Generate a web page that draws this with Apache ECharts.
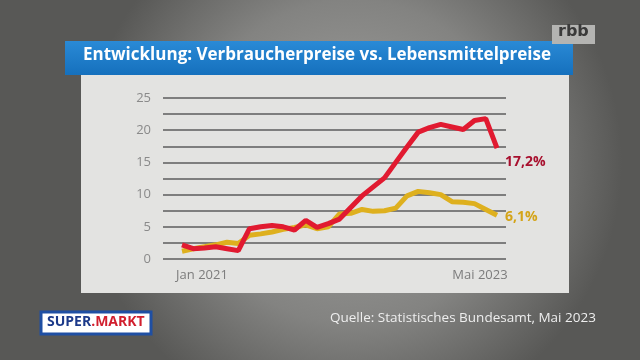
<!DOCTYPE html>
<html><head><meta charset="utf-8">
<script src="https://cdn.jsdelivr.net/npm/echarts@6/dist/echarts.min.js"></script>
<style>html,body{margin:0;padding:0;background:#6e6e6c}#c{width:640px;height:360px}</style>
</head><body><div id="c"></div>
<script>
const months = ['Jan 2021','Feb 2021','Mär 2021','Apr 2021','Mai 2021','Jun 2021','Jul 2021','Aug 2021','Sep 2021','Okt 2021','Nov 2021','Dez 2021',
  'Jan 2022','Feb 2022','Mär 2022','Apr 2022','Mai 2022','Jun 2022','Jul 2022','Aug 2022','Sep 2022','Okt 2022','Nov 2022','Dez 2022',
  'Jan 2023','Feb 2023','Mär 2023','Apr 2023','Mai 2023'];
const lebensmittel = [2.2,1.6,1.7,1.9,1.6,1.3,4.7,5.0,5.2,5.0,4.5,6.0,4.9,5.5,6.2,8.0,9.8,11.2,12.6,15.0,17.4,19.7,20.4,20.9,20.5,20.1,21.5,21.8,17.2];
const verbraucher = [1.2,1.6,1.9,2.2,2.6,2.4,3.7,3.9,4.2,4.6,4.9,5.3,4.7,5.0,7.0,7.1,7.7,7.4,7.5,7.9,9.8,10.5,10.3,10.0,8.9,8.8,8.6,7.7,6.8];
const seriesNames = ['Verbraucherpreise','Lebensmittelpreise'];
const endLabels = ['6,1%','17,2%'];
const yTicks = [0,5,10,15,20,25];
const titleText = 'Entwicklung: Verbraucherpreise vs. Lebensmittelpreise';
const sourceText = 'Quelle: Statistisches Bundesamt, Mai 2023';

const chart = echarts.init(document.getElementById('c'));
const n = months.length;
chart.setOption({
  animation: false,
  backgroundColor: {
    type: 'radial', x: 0.55, y: 0.45, r: 0.75,
    colorStops: [{offset: 0, color: '#a3a3a1'}, {offset: 0.6, color: '#838381'}, {offset: 1, color: '#585856'}]
  },
  graphic: [
    {type: 'rect', shape: {x: 81, y: 62, width: 488, height: 231}, style: {fill: '#e3e3e1'}, z: 0},
    {type: 'rect', shape: {x: 65, y: 41, width: 508, height: 34},
      style: {fill: {type: 'linear', x: 0, y: 0, x2: 0, y2: 1, colorStops: [{offset: 0, color: '#2a8ad6'}, {offset: 1, color: '#1570bd'}]}}, z: 1},
    {type: 'text', left: 83, top: 47, style: {text: titleText, fill: '#ffffff', font: 'bold 17px "Open Sans"'}, z: 2},
    {type: 'rect', shape: {x: 552, y: 25, width: 43, height: 19}, style: {fill: '#b4b4b2'}, z: 1},
    {type: 'text', left: 558, top: 24, style: {text: 'rbb', fill: '#3a3a3a', font: 'bold 16px "DejaVu Sans"'}, z: 2},
    {type: 'rect', shape: {x: 41, y: 312, width: 110, height: 22}, style: {fill: '#ffffff', stroke: '#1f4fa3', lineWidth: 3}, z: 1},
    {type: 'text', left: 47, top: 315, style: {rich: {a: {fill: '#1c3a8a', font: 'bold 14px "Open Sans"'}, b: {fill: '#d11f2e', font: 'bold 14px "Open Sans"'}}, text: '{a|SUPER}{b|.MARKT}'}, z: 2},
    {type: 'text', left: 330, top: 311, style: {text: sourceText, fill: '#eeeeee', font: '13.5px "Open Sans"'}, z: 2}
  ],
  grid: [
    {left: 163, right: 134, top: 98, bottom: 101},
    {left: 182, right: 143, top: 98, bottom: 101}
  ],
  xAxis: [
    {gridIndex: 0, type: 'value', show: false, min: 0, max: 1},
    {gridIndex: 1, type: 'category', data: months, boundaryGap: false,
      axisLine: {show: false}, axisTick: {show: false},
      axisLabel: {interval: (i) => i === 0 || i === n - 1, margin: 10, color: '#7c7c7c', fontSize: 13, fontFamily: 'Open Sans',
        formatter: (v, i) => i === 0 ? '{a|' + v + '}' : '{b|' + v + '}',
        rich: {a: {padding: [0, 0, 0, 40], color: '#7c7c7c', fontSize: 13, fontFamily: 'Open Sans'}, b: {padding: [0, 34, 0, 0], color: '#7c7c7c', fontSize: 13, fontFamily: 'Open Sans'}}}}
  ],
  yAxis: [
    {gridIndex: 0, type: 'value', min: 0, max: 25, interval: 2.5,
      axisLine: {show: false}, axisTick: {show: false},
      splitLine: {lineStyle: {color: '#5c5c5c', width: 1.5}},
      axisLabel: {margin: 12, color: '#8a8a8a', fontSize: 13, fontFamily: 'Open Sans', formatter: (v) => yTicks.includes(v) ? String(v) : ''}},
    {gridIndex: 1, type: 'value', min: 0, max: 25, show: false, splitLine: {show: false}}
  ],
  series: [
    {name: seriesNames[0], type: 'line', xAxisIndex: 1, yAxisIndex: 1, data: verbraucher, symbol: 'none',
      lineStyle: {color: '#deb01e', width: 5}, z: 3,
      endLabel: {show: true, formatter: endLabels[0], color: '#d4a418', fontWeight: 'bold', fontSize: 14, fontFamily: 'Open Sans', offset: [0, 2]}},
    {name: seriesNames[1], type: 'line', xAxisIndex: 1, yAxisIndex: 1, data: lebensmittel, symbol: 'none',
      lineStyle: {color: '#e11a30', width: 5}, z: 4,
      endLabel: {show: true, formatter: endLabels[1], color: '#a8102e', fontWeight: 'bold', fontSize: 14, fontFamily: 'Open Sans', offset: [0, 14]}}
  ]
});
</script></body></html>
